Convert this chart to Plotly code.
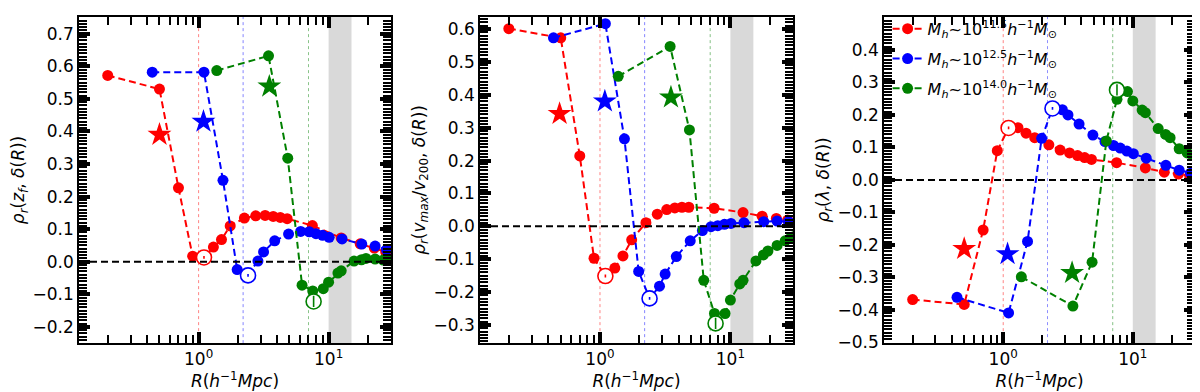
import plotly.graph_objects as go
from plotly.subplots import make_subplots

# radial bins (h^-1 Mpc) for each halo mass bin
r_red = [0.2, 0.5, 0.7, 0.9, 1.1, 1.3, 1.5, 1.75, 2.25, 2.75, 3.25, 3.75, 4.25, 4.8, 7.5, 12.5, 17.5, 22.5, 27.5]
r_blue = [0.44, 1.1, 1.54, 1.98, 2.4, 2.86, 3.16, 3.85, 4.92, 6.1, 7.1, 8.0, 9.0, 10.1, 12.7, 18.0, 22.8, 27.9]
r_green = [1.38, 3.45, 4.85, 6.25, 7.55, 9.1, 10.0, 11.8, 12.5, 15.7, 17.9, 19.4, 22.8, 26.3, 28.8, 30.8]

# panel 1: rho_r(z_f, delta(R))
zf_red = [0.572, 0.53, 0.227, 0.017, 0.013, 0.045, 0.068, 0.11, 0.134, 0.141, 0.142, 0.139, 0.136, 0.132, 0.111, 0.073, 0.055, 0.042, 0.03]
zf_blue = [0.582, 0.582, 0.25, -0.024, -0.042, 0.002, 0.03, 0.064, 0.085, 0.093, 0.092, 0.086, 0.081, 0.075, 0.07, 0.054, 0.048, 0.037]
zf_green = [0.587, 0.632, 0.318, -0.072, -0.09, -0.083, -0.063, -0.035, -0.028, 0.002, 0.006, 0.01, 0.008, 0.005, 0.004, 0.003]

# panel 2: rho_r(vmax/v200, delta(R))
vmax_red = [0.601, 0.573, 0.214, -0.097, -0.151, -0.127, -0.09, -0.041, 0.011, 0.037, 0.051, 0.056, 0.058, 0.058, 0.055, 0.042, 0.031, 0.024, 0.019]
vmax_blue = [0.573, 0.616, 0.266, -0.137, -0.219, -0.182, -0.145, -0.092, -0.044, -0.013, -0.001, 0.002, 0.006, 0.009, 0.011, 0.014, 0.016, 0.014]
vmax_green = [0.456, 0.547, 0.293, -0.164, -0.265, -0.265, -0.224, -0.175, -0.164, -0.105, -0.087, -0.075, -0.058, -0.044, -0.036, -0.031]

# panel 3: rho_r(lambda, delta(R))
lam_red = [-0.368, -0.383, -0.154, 0.09, 0.16, 0.161, 0.144, 0.13, 0.108, 0.092, 0.083, 0.075, 0.069, 0.063, 0.053, 0.037, 0.024, 0.018, 0.013]
lam_blue = [-0.361, -0.409, -0.189, 0.128, 0.22, 0.216, 0.2, 0.172, 0.138, 0.118, 0.106, 0.098, 0.089, 0.081, 0.067, 0.045, 0.03, 0.021]
lam_green = [-0.298, -0.388, -0.253, 0.12, 0.248, 0.272, 0.243, 0.215, 0.207, 0.158, 0.14, 0.13, 0.096, 0.083, 0.076, 0.07]

# extremum markers (open circles): R and rho, per panel, order red/blue/green
ext_r = [[1.1, 2.4, 7.67], [1.1, 2.4, 7.7], [1.1, 2.4, 7.55]]
ext_rho = [[0.013, -0.042, -0.122], [-0.151, -0.219, -0.295], [0.16, 0.22, 0.277]]

# star markers
star_r = [[0.5, 1.09, 3.5], [0.49, 1.09, 3.5], [0.5, 1.08, 3.4]]
star_rho = [[0.39, 0.43, 0.538], [0.342, 0.38, 0.392], [-0.212, -0.228, -0.286]]

# virial radii lines and shaded region
r_vir = [1.0, 2.2, 7.0]
band = [10, 15]

masses = ["11.5", "12.5", "14.0"]
colors = ["#ff0000", "#0000ff", "#008000"]
radii = [r_red, r_blue, r_green]
panels = [
    [zf_red, zf_blue, zf_green],
    [vmax_red, vmax_blue, vmax_green],
    [lam_red, lam_blue, lam_green],
]
ylabels = [
    "<i>ρ<sub>r</sub></i>(<i>z<sub>f</sub></i>, <i>δ</i>(<i>R</i>))",
    "<i>ρ<sub>r</sub></i>(<i>v<sub>max</sub></i>/<i>v</i><sub>200</sub>, <i>δ</i>(<i>R</i>))",
    "<i>ρ<sub>r</sub></i>(<i>λ</i>, <i>δ</i>(<i>R</i>))",
]
yranges = [[-0.25, 0.752], [-0.355, 0.637], [-0.502, 0.502]]
xdomains = [[71 / 1200, 383 / 1200], [472 / 1200, 785 / 1200], [876 / 1200, 1187 / 1200]]
ydomain = [1 - 343 / 392, 1 - 9 / 392]
minor_x = [0.2, 0.3, 0.4, 0.5, 0.6, 0.7, 0.8, 0.9, 2, 3, 4, 5, 6, 7, 8, 9, 20, 30]

font = "DejaVu Sans"
fig = make_subplots(rows=1, cols=3)

for p in range(3):
    col = p + 1
    for k in range(3):
        name = ("<i>M<sub>h</sub></i>~10<sup>" + masses[k] + "</sup><i>h</i><sup>−1</sup>"
                "<i>M</i><sub>⊙</sub>")
        fig.add_trace(go.Scatter(
            x=radii[k], y=panels[p][k], mode="lines+markers", name=name,
            line=dict(color=colors[k], width=2, dash="7px,4px"),
            marker=dict(color=colors[k], size=11, symbol="circle"),
            showlegend=(p == 2), legendgroup=masses[k]),
            row=1, col=col)
        fig.add_trace(go.Scatter(
            x=[star_r[p][k]], y=[star_rho[p][k]], mode="markers",
            marker=dict(color=colors[k], size=18, symbol="star"),
            showlegend=False), row=1, col=col)
        fig.add_trace(go.Scatter(
            x=[ext_r[p][k]], y=[ext_rho[p][k]], mode="markers",
            marker=dict(color="white", size=15, symbol="circle",
                        line=dict(color=colors[k], width=1.6)),
            showlegend=False), row=1, col=col)
        fig.add_trace(go.Scatter(
            x=[ext_r[p][k]], y=[ext_rho[p][k]], mode="markers",
            marker=dict(color=colors[k], size=8 if k == 2 else 2, symbol="line-ns",
                        line=dict(color=colors[k], width=1.6)),
            showlegend=False), row=1, col=col)

    fig.add_vrect(x0=band[0], x1=band[1], fillcolor="#d9d9d9", opacity=1, line_width=0,
                  layer="below", row=1, col=col)
    for rv, c in zip(r_vir, colors):
        fig.add_vline(x=rv, line=dict(color=c, width=0.8, dash="dot"), opacity=0.6,
                      layer="below", row=1, col=col)
    fig.add_hline(y=0, line=dict(color="black", width=2, dash="7px,4px"), opacity=1,
                  row=1, col=col)

    fig.update_xaxes(
        type="log", range=[-0.92, 1.48], domain=xdomains[p],
        tickmode="array", tickvals=[1, 10], ticktext=["10<sup>0</sup>", "10<sup>1</sup>"],
        ticks="inside", ticklen=11, tickwidth=3.5, tickcolor="#000000",
        minor=dict(tickmode="array", tickvals=minor_x,
                   ticks="inside", ticklen=8, tickwidth=2.2, tickcolor="#000000"),
        showline=True, linecolor="#000000", linewidth=1.5, mirror="allticks",
        showgrid=False, zeroline=False,
        tickfont=dict(family=font, size=17, color="#000000"),
        title=dict(text="<i>R</i>(<i>h</i><sup>−1</sup><i>Mpc</i>)",
                   font=dict(family=font, size=17, color="#000000"), standoff=2),
        row=1, col=col,
    )
    fig.update_yaxes(
        range=yranges[p], domain=ydomain,
        tickmode="linear", tick0=0, dtick=0.1, tickformat=".1f",
        ticks="inside", ticklen=11, tickwidth=3.5, tickcolor="#000000",
        minor=dict(tickmode="linear", tick0=0, dtick=0.01, ticks="inside", ticklen=8,
                   tickwidth=2, tickcolor="#000000"),
        showline=True, linecolor="#000000", linewidth=1.5, mirror="allticks",
        showgrid=False, zeroline=False,
        tickfont=dict(family=font, size=17, color="#000000"),
        title=dict(text=ylabels[p], font=dict(family=font, size=17, color="#000000"),
                   standoff=4),
        row=1, col=col,
    )

fig.update_layout(
    width=1200, height=392,
    margin=dict(l=0, r=0, t=0, b=0),
    plot_bgcolor="white",
    legend=dict(x=0.733, y=0.99, xanchor="left", yanchor="top",
                bgcolor="rgba(255,255,255,0)",
                font=dict(family=font, size=16, color="#000000"),
                tracegroupgap=6),
)

fig.write_html("out.html")
